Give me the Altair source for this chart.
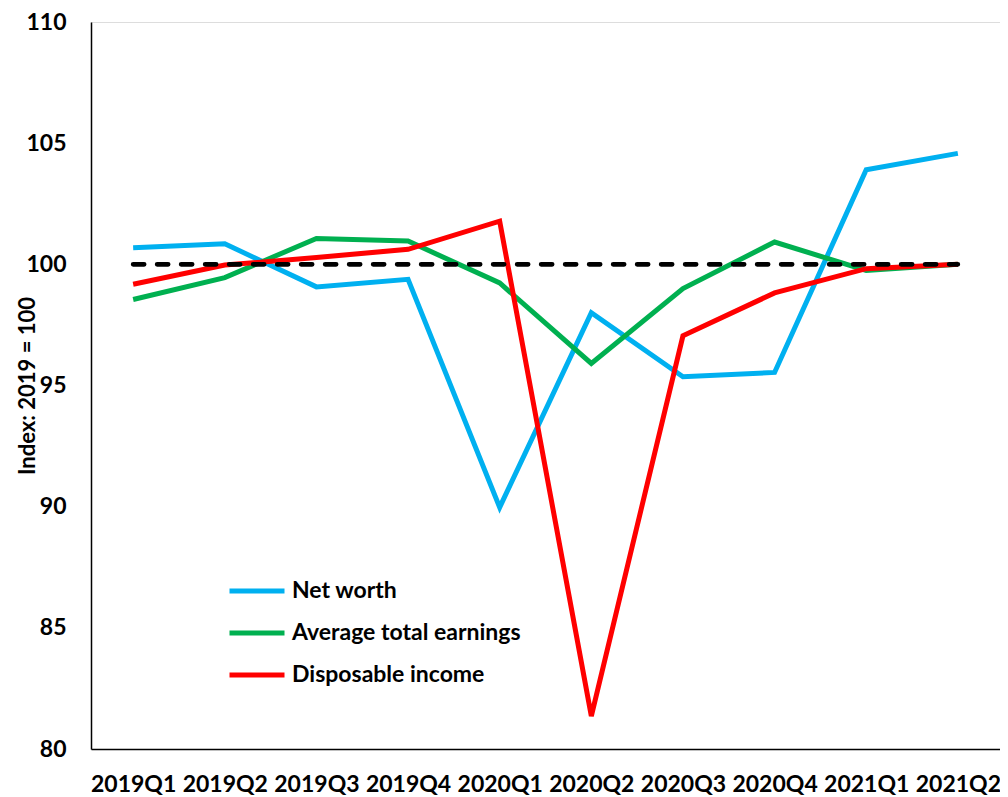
import altair as alt
import pandas as pd

quarters = ["2019Q1", "2019Q2", "2019Q3", "2019Q4", "2020Q1", "2020Q2",
            "2020Q3", "2020Q4", "2021Q1", "2021Q2"]
net_worth = [100.68, 100.85, 99.07, 99.38, 89.97, 98.0, 95.36, 95.54, 103.9, 104.58]
avg_earnings = [98.55, 99.45, 101.07, 100.96, 99.23, 95.91, 99.0, 100.92, 99.75, 100.0]
disp_income = [99.18, 99.97, 100.28, 100.62, 101.78, 81.36, 97.05, 98.82, 99.82, 100.0]
baseline = [100] * len(quarters)

series_names = ["Net worth", "Average total earnings", "Disposable income"]
series_colors = ["#00B0F0", "#00B050", "#FF0000"]

rows = []
for k, (name, vals) in enumerate(zip(series_names, [net_worth, avg_earnings, disp_income])):
    for q, v in zip(quarters, vals):
        rows.append({"quarter": q, "value": v, "series": name, "k": k})
df = pd.DataFrame(rows)
base_df = pd.DataFrame({"quarter": quarters, "value": baseline})

FONT = "Lato"

x_enc = alt.X("quarter:N", sort=quarters, title=None,
              scale=alt.Scale(type="point", padding=0.46))
y_enc = alt.Y("value:Q", title="Index: 2019 = 100",
              scale=alt.Scale(domain=[80, 110], nice=False, zero=False),
              axis=alt.Axis(values=[80, 85, 90, 95, 100, 105, 110]))

lines = alt.Chart(df).mark_line(strokeWidth=5).encode(
    x=x_enc,
    y=y_enc,
    color=alt.Color("series:N", sort=series_names,
                    scale=alt.Scale(domain=series_names, range=series_colors),
                    legend=alt.Legend(title=None, orient="none", legendX=136,
                                      legendY=539, symbolType="stroke",
                                      symbolSize=3025, symbolStrokeWidth=5,
                                      labelFont=FONT, labelFontSize=23,
                                      labelFontWeight="bold", labelColor="black",
                                      labelLimit=0, labelOffset=5,
                                      rowPadding=-14, padding=0)),
    detail="k:O",
)

dashed = alt.Chart(base_df).mark_line(strokeWidth=4.7, color="black",
                                       strokeDash=[11, 13], strokeCap="round").encode(
    x=x_enc,
    y=y_enc,
)

chart = alt.layer(lines, dashed).properties(
    width=909, height=727,
    autosize=alt.AutoSizeParams(type="none"),
    padding={"left": 83, "top": 14, "right": 0, "bottom": 48},
).configure_view(stroke=None).configure(background="white").configure_axis(
    grid=False, ticks=False, domainColor="black", domainWidth=1.5,
    labelFont=FONT, labelFontSize=23, labelFontWeight="bold", labelColor="black",
    titleFont=FONT, titleFontWeight="bold", titleColor="black",
).configure_axisX(
    labelAngle=0, labelPadding=24,
).configure_axisY(
    labelPadding=25, titleFontSize=22, titleX=-64, titleY=363.5,
    titleAngle=270, titleAlign="center", titleBaseline="middle",
)

chart.save("out.html", embed_options={"renderer": "svg", "actions": False})
